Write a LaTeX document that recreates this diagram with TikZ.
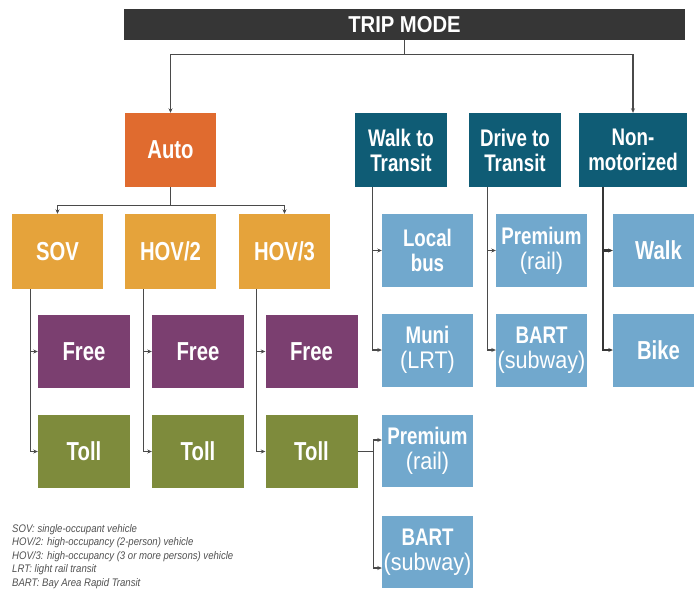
\documentclass[tikz,border=0pt]{standalone}
\usepackage{fontspec}
\setmainfont{Liberation Sans}
\newfontfamily\narf[FakeStretch=0.78]{Liberation Sans}
\newfontfamily\narr[FakeStretch=0.9]{Liberation Sans}
\newfontfamily\titf[FakeStretch=0.88]{Liberation Sans}
\newfontfamily\legf[FakeStretch=0.87]{Liberation Sans}
\usetikzlibrary{arrows.meta,calc}
\definecolor{barc}{HTML}{363636}
\definecolor{autoc}{HTML}{E06B2F}
\definecolor{tealc}{HTML}{0F5C75}
\definecolor{mustc}{HTML}{E5A33B}
\definecolor{purpc}{HTML}{7B3F70}
\definecolor{olivc}{HTML}{7E8B3C}
\definecolor{lbluc}{HTML}{71A8CD}
\definecolor{linec}{HTML}{4A4A4A}
\definecolor{legc}{HTML}{505050}
\begin{document}
\begin{tikzpicture}[x=1pt,y=-1pt,
  box/.style={rectangle,inner sep=0pt,text=white,align=center,
    minimum width=91pt,minimum height=74pt,
    font=\narf\bfseries\fontsize{26}{26}\selectfont},
  twobox/.style={box,font=\narf\bfseries\fontsize{24}{25}\selectfont},
  conn/.style={draw=linec,line width=1.1pt},
  arr/.style={conn,-{Stealth[length=4.5pt,width=4pt]}},
  legend/.style={anchor=base west,inner sep=0pt,text=legc,
    font=\legf\itshape\fontsize{11}{13}\selectfont}]
\path[use as bounding box] (0,0) rectangle (694,611);

% top bar
\node[rectangle,fill=barc,minimum width=561pt,minimum height=31pt,inner sep=0pt,
  text=white,font=\titf\bfseries\fontsize{23}{23}\selectfont] (trip) at (404.5,24.5) {TRIP MODE};

% level 1
\node[box,fill=autoc] (auto) at (170.5,150) {Auto};
\node[twobox,fill=tealc,minimum width=92pt] (walkT) at (401,150) {Walk to\\Transit};
\node[twobox,fill=tealc,minimum width=92pt] (driveT) at (515,150) {Drive to\\Transit};
\node[twobox,fill=tealc,minimum width=108pt] (nonmot) at (633,150) {Non-\\motorized};

% level 2 auto
\node[box,fill=mustc,minimum height=75pt] (sov) at (57.5,251.5) {SOV};
\node[box,fill=mustc,minimum height=75pt] (hov2) at (170.5,251.5) {HOV/2};
\node[box,fill=mustc,minimum height=75pt] (hov3) at (284.5,251.5) {HOV/3};

% level 3 auto
\node[box,fill=purpc,minimum width=92pt,minimum height=73pt] (free1) at (84,351.5) {Free};
\node[box,fill=purpc,minimum width=92pt,minimum height=73pt] (free2) at (198,351.5) {Free};
\node[box,fill=purpc,minimum width=92pt,minimum height=73pt] (free3) at (311.5,351.5) {Free};
\node[box,fill=olivc,minimum width=92pt,minimum height=73pt] (toll1) at (84,451.5) {Toll};
\node[box,fill=olivc,minimum width=92pt,minimum height=73pt] (toll2) at (198,451.5) {Toll};
\node[box,fill=olivc,minimum width=92pt,minimum height=73pt] (toll3) at (311.5,451.5) {Toll};

% transit options
\node[twobox,fill=lbluc,minimum height=73pt] (local) at (427.5,250.5) {Local\\bus};
\node[twobox,fill=lbluc,minimum height=73pt] (muni) at (427.5,350) {Muni\\{\narr\mdseries(LRT)}};
\node[twobox,fill=lbluc,minimum height=73pt] (premD) at (541.5,250.5) {Premium\\{\narr\mdseries(rail)}};
\node[twobox,fill=lbluc,minimum height=73pt] (bartD) at (541.5,350) {BART\\{\narr\mdseries(subway)}};
\node[box,fill=lbluc,minimum height=73pt] (walk) at (658.5,250.5) {Walk};
\node[box,fill=lbluc,minimum height=73pt] (bike) at (658.5,350) {Bike};
\node[twobox,fill=lbluc,minimum height=72pt] (premA) at (427.5,451) {Premium\\{\narr\mdseries(rail)}};
\node[twobox,fill=lbluc,minimum height=72pt] (bartA) at (427.5,552) {BART\\{\narr\mdseries(subway)}};

% connectors from top
\draw[conn] (trip.south) -- ++(0,14.5) coordinate (tj);
\draw[arr] (tj) -| (auto.north);
\draw[arr] (tj) -| (nonmot.north);

% auto to classes
\draw[conn] (auto.south) -- ++(0,18) coordinate (aj);
\draw[arr] (aj) -| (sov.north);
\draw[arr] (aj) -| (hov3.north);

% classes to free/toll
\coordinate (s1) at ($(sov.south west)+(19,0)$);
\coordinate (s2) at ($(hov2.south west)+(19,0)$);
\coordinate (s3) at ($(hov3.south west)+(18,0)$);
\draw[arr] (s1) |- (free1.west);
\draw[arr] (s1) |- (toll1.west);
\draw[arr] (s2) |- (free2.west);
\draw[arr] (s2) |- (toll2.west);
\draw[arr] (s3) |- (free3.west);
\draw[arr] (s3) |- (toll3.west);

% transit connectors
\coordinate (w1) at ($(walkT.south west)+(18,0)$);
\coordinate (d1) at ($(driveT.south west)+(19,0)$);
\coordinate (n1) at ($(nonmot.south west)+(24,0)$);
\draw[arr] (w1) |- (local.west);
\draw[arr] (w1) |- (muni.west);
\draw[arr] (d1) |- (premD.west);
\draw[arr] (d1) |- (bartD.west);
\draw[arr,line width=2.2pt,draw=barc] (n1) |- (walk.west);
\draw[arr,line width=2.2pt,draw=barc] (n1) |- (bike.west);

% toll/3 to transit
\draw[conn] (toll3.east) -- ++(16,0) coordinate (tj3);
\draw[arr] (tj3) |- ([yshift=11pt]premA.west);
\draw[arr] (tj3) |- ([yshift=-16pt]bartA.west);

% legend
\node[legend] (l1) at (12,532) {SOV: single-occupant vehicle};
\node[legend] (l2) at (12,545.5) {HOV/2: high-occupancy (2-person) vehicle};
\node[legend] (l3) at (12,559) {HOV/3: high-occupancy (3 or more persons) vehicle};
\node[legend] (l4) at (12,572.5) {LRT: light rail transit};
\node[legend] (l5) at (12,586) {BART: Bay Area Rapid Transit};
\end{tikzpicture}
\end{document}
